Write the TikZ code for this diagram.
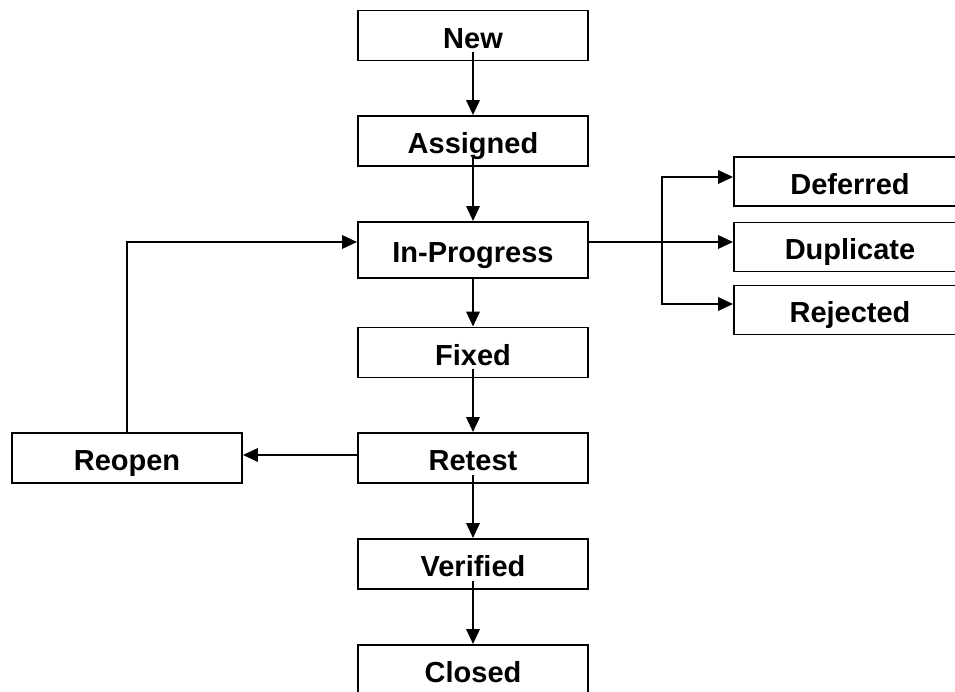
\documentclass[tikz,border=0pt]{standalone}
\usepackage{fontspec}
\setmainfont{Liberation Sans}
\usetikzlibrary{arrows.meta}

\begin{document}
\begin{tikzpicture}[
  state/.style={draw,line width=1.1pt,minimum width=4.6cm,minimum height=1cm,inner sep=0pt,
    font=\fontsize{16.5}{18}\selectfont\bfseries,text height=14.4pt,text depth=0pt},
  flow/.style={line width=1.1pt,-{Triangle[length=0.3cm,width=0.27cm]}}
]
  \useasboundingbox (0,0) rectangle (19.1,-13.84);
  \node[state] (new) at (9.46,-0.71) {New};
  \node[state] (assigned) at (9.46,-2.82) {Assigned};
  \node[state,minimum height=1.12cm] (progress) at (9.46,-5.00) {In-Progress};
  \node[state] (fixed) at (9.46,-7.05) {Fixed};
  \node[state] (retest) at (9.46,-9.16) {Retest};
  \node[state] (verified) at (9.46,-11.28) {Verified};
  \node[state] (closed) at (9.46,-13.40) {Closed};
  \node[state] (reopen) at (2.54,-9.16) {Reopen};
  \node[state,minimum width=4.64cm,minimum height=0.98cm] (deferred) at (17.00,-3.63) {Deferred};
  \node[state,minimum width=4.64cm,minimum height=0.98cm] (duplicate) at (17.00,-4.94) {Duplicate};
  \node[state,minimum width=4.64cm,minimum height=0.98cm] (rejected) at (17.00,-6.20) {Rejected};
  \coordinate (fork) at (13.24,-4.84);
  \draw[flow] ([yshift=0.18cm]new.south) -- (assigned.north);
  \draw[flow] ([yshift=0.18cm]assigned.south) -- (progress.north);
  \draw[flow] (progress.south) -- (fixed.north);
  \draw[flow] ([yshift=0.18cm]fixed.south) -- (retest.north);
  \draw[flow] ([yshift=0.18cm]retest.south) -- (verified.north);
  \draw[flow] ([yshift=0.18cm]verified.south) -- (closed.north);
  \draw[flow] ([yshift=0.06cm]retest.west) -- ([yshift=0.06cm]reopen.east);
  \draw[flow] (reopen.north) |- ([yshift=0.16cm]progress.west);
  \draw[flow] ([yshift=0.16cm]progress.east) -- ([yshift=0.10cm]duplicate.west);
  \draw[flow] (fork) |- ([yshift=0.09cm]deferred.west);
  \draw[flow] (fork) |- ([yshift=0.12cm]rejected.west);
\end{tikzpicture}
\end{document}
